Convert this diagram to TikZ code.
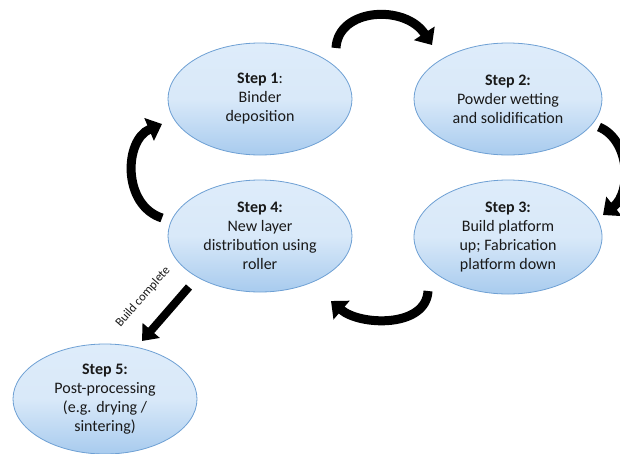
\documentclass[tikz,border=0pt]{standalone}
\usepackage{fontspec}
\setmainfont{Carlito}
\usetikzlibrary{shapes.geometric,arrows.meta}
\definecolor{elltop}{RGB}{222,236,250}
\definecolor{ellbot}{RGB}{168,203,238}
\definecolor{elledge}{RGB}{110,160,212}
\tikzset{
  stepell/.style={ellipse, draw=elledge, line width=0.8pt, top color=elltop, bottom color=ellbot,
    middle color=elltop!90!ellbot,
    inner sep=0pt, align=center, font=\fontsize{16}{19}\selectfont, text=black!90},
  cyc/.style={line width=9pt, -{Triangle[width=24pt,length=14pt]}},
}
\begin{document}
\begin{tikzpicture}[x=1pt,y=-1pt]
\useasboundingbox (0,0) rectangle (620,453);
\fill[white] (0,0) rectangle (620,453);
\node[stepell, minimum width=184pt, minimum height=112pt] (s1) at (260,99) {\textbf{Step 1}:\\Binder\\deposition};
\node[stepell, minimum width=188pt, minimum height=112pt] (s2) at (508,99) {\textbf{Step 2:}\\Powder wetting\\and solidification};
\node[stepell, minimum width=188pt, minimum height=114pt] (s3) at (508,237) {\textbf{Step 3:}\\Build platform\\up; Fabrication\\platform down};
\node[stepell, minimum width=184pt, minimum height=112pt] (s4) at (260,236) {\textbf{Step 4:}\\New layer\\distribution using\\roller};
\node[stepell, minimum width=184pt, minimum height=110pt] (s5) at (105,399) {\textbf{Step 5:}\\Post-processing\\(e.g. drying /\\sintering)};
% cycle arrows
\coordinate (t1) at (336,48);
\coordinate (t2) at (432,45);
\draw[cyc] (t1) .. controls (338,8) and (405,4) .. (t2);
\coordinate (r1) at (599,127);
\coordinate (r2) at (603,215);
\draw[cyc] (r1) .. controls (630,140) and (632,192) .. (r2);
\coordinate (b1) at (428,291);
\coordinate (b2) at (331,301);
\draw[cyc] (b1) .. controls (426,328) and (360,326) .. (b2);
\coordinate (l1) at (162,218);
\coordinate (l2) at (162,124);
\draw[cyc] (l1) .. controls (122,205) and (124,140) .. (l2);
% build complete arrow
\coordinate (c1) at (189,287);
\coordinate (c2) at (142,341);
\draw[line width=8pt, -{Triangle[width=22pt,length=14pt]}] (c1) -- (c2);
\node[rotate=49, font=\fontsize{12.5}{14}\selectfont, text=black!90, inner sep=0pt] (lbl) at (143,297) {Build complete};
\end{tikzpicture}
\end{document}
